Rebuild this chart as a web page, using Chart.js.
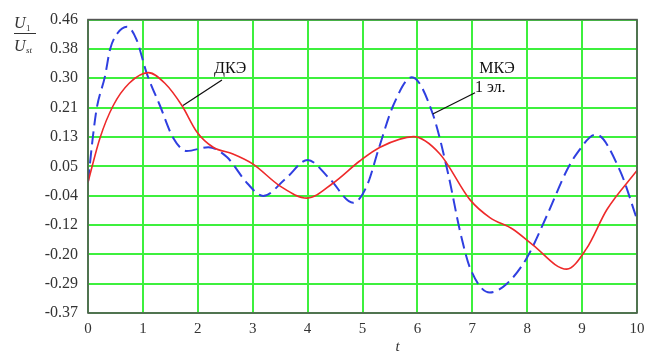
<!DOCTYPE html>
<html>
<head>
<meta charset="utf-8">
<script src="https://cdn.jsdelivr.net/npm/chart.js@4/dist/chart.umd.min.js"></script>
<style>
  html, body { margin: 0; padding: 0; background: #fff; }
  #wrap { width: 655px; height: 354px; position: relative; }
</style>
</head>
<body>
<div id="wrap"><canvas id="chart" width="655" height="354"></canvas></div>
<script>
// МКЭ, 1 эл. (blue dashed)
const mkeT = [0, 0.09, 0.16, 0.31, 0.4, 0.53, 0.71, 0.88, 1.07, 1.31, 1.55, 1.8, 2.19, 2.53, 2.9, 3.19, 3.6, 4.0, 4.4, 4.83, 5.08, 5.3, 5.56, 5.9, 6.28, 6.56, 6.78, 6.96, 7.32, 7.63, 7.99, 8.36, 8.72, 8.9, 9.25, 9.69, 10];
const mkeU = [0, 0.13, 0.21, 0.3, 0.375, 0.42, 0.44, 0.405, 0.308, 0.217, 0.126, 0.088, 0.099, 0.071, -0.003, -0.039, 0.01, 0.063, 0.01, -0.058, -0.01, 0.097, 0.217, 0.297, 0.193, 0.024, -0.141, -0.243, -0.312, -0.287, -0.215, -0.094, 0.033, 0.08, 0.135, 0.033, -0.105];

// ДКЭ (red solid)
const dkeT = [0, 0.22, 0.46, 0.75, 1.1, 1.4, 1.71, 1.98, 2.28, 2.64, 3.0, 3.5, 3.99, 4.46, 4.95, 5.32, 5.93, 6.41, 6.96, 7.32, 7.74, 8.1, 8.72, 9.08, 9.45, 10];
const dkeU = [0, 0.126, 0.217, 0.28, 0.31, 0.28, 0.217, 0.143, 0.099, 0.08, 0.052, -0.011, -0.045, -0.003, 0.06, 0.099, 0.129, 0.08, -0.05, -0.1, -0.133, -0.177, -0.246, -0.188, -0.078, 0.033];

const yLabels = ['-0.37', '-0.29', '-0.20', '-0.12', '-0.04', '0.05', '0.13', '0.21', '0.30', '0.38', '0.46'];
const yMin = -0.37, yMax = 0.46;

const toXY = (ts, vs) => ts.map((t, i) => ({ x: t, y: vs[i] }));

const serif = '"Liberation Serif", "DejaVu Serif", serif';

const decor = {
  id: 'decor',
  afterDatasetsDraw(chart) {
    const { ctx, chartArea: a, scales } = chart;
    const X = scales.x, Y = scales.y;
    ctx.save();
    // frame
    ctx.strokeStyle = '#555';
    ctx.lineWidth = 1.6;
    ctx.strokeRect(a.left, a.top, a.right - a.left, a.bottom - a.top);

    // leader lines
    ctx.strokeStyle = '#111';
    ctx.lineWidth = 1.3;
    ctx.beginPath();
    ctx.moveTo(X.getPixelForValue(2.44), Y.getPixelForValue(0.289));
    ctx.lineTo(X.getPixelForValue(1.73), Y.getPixelForValue(0.217));
    ctx.moveTo(X.getPixelForValue(7.05), Y.getPixelForValue(0.253));
    ctx.lineTo(X.getPixelForValue(6.28), Y.getPixelForValue(0.193));
    ctx.stroke();

    // labels
    ctx.fillStyle = '#111';
    ctx.font = '16px ' + serif;
    ctx.textAlign = 'center';
    ctx.textBaseline = 'middle';
    ctx.fillText('ДКЭ', X.getPixelForValue(2.59), Y.getPixelForValue(0.322));
    ctx.fillText('МКЭ', X.getPixelForValue(7.45), Y.getPixelForValue(0.322));
    ctx.textAlign = 'left';
    ctx.fillText('1 эл.', X.getPixelForValue(7.05), Y.getPixelForValue(0.267));

    // axis titles
    ctx.fillStyle = '#333';
    ctx.font = 'italic 16px ' + serif;
    ctx.textAlign = 'left';
    ctx.textBaseline = 'alphabetic';
    ctx.fillText('U', 14, 28);
    ctx.fillText('U', 14, 51);
    ctx.font = '9px ' + serif;
    ctx.fillText('1', 26, 31);
    ctx.font = 'italic 9px ' + serif;
    ctx.fillText('st', 26, 53);
    ctx.strokeStyle = '#333';
    ctx.lineWidth = 1;
    ctx.beginPath();
    ctx.moveTo(14, 33.5);
    ctx.lineTo(36, 33.5);
    ctx.stroke();

    ctx.font = 'italic 15px ' + serif;
    ctx.textAlign = 'center';
    ctx.fillText('t', (a.left + a.right) / 2 + 35, 351);
    ctx.restore();
  }
};

new Chart(document.getElementById('chart').getContext('2d'), {
  type: 'line',
  data: {
    datasets: [
      {
        label: 'ДКЭ',
        data: toXY(dkeT, dkeU),
        borderColor: '#ee2a2a',
        borderWidth: 1.6,
        pointRadius: 0,
        tension: 0.4,
        cubicInterpolationMode: 'monotone'
      },
      {
        label: 'МКЭ 1 эл.',
        data: toXY(mkeT, mkeU),
        borderColor: '#2f3fe0',
        borderWidth: 2,
        borderDash: [13, 6],
        pointRadius: 0,
        tension: 0.4,
        cubicInterpolationMode: 'monotone'
      }
    ]
  },
  options: {
    responsive: false,
    animation: false,
    layout: { padding: { left: 0, right: 18, top: 12, bottom: 0 } },
    plugins: { legend: { display: false }, tooltip: { enabled: false } },
    scales: {
      x: {
        type: 'linear',
        min: 0,
        max: 10,
        ticks: { stepSize: 1, padding: 7, color: '#333', font: { family: serif, size: 15 } },
        grid: { color: '#3df03d', lineWidth: 2, drawTicks: false },
        border: { display: false },
        afterFit(s) { s.height = 41; }
      },
      y: {
        min: yMin,
        max: yMax,
        afterBuildTicks(s) {
          s.ticks = yLabels.map((_, i) => ({ value: yMin + i * (yMax - yMin) / (yLabels.length - 1) }));
        },
        ticks: {
          padding: 10,
          color: '#333',
          font: { family: serif, size: 16 },
          callback: (v, i) => yLabels[i]
        },
        grid: { color: '#3df03d', lineWidth: 2, drawTicks: false },
        border: { display: false },
        afterFit(s) { s.width = 88; }
      }
    }
  },
  plugins: [decor]
});
</script>
</body>
</html>
